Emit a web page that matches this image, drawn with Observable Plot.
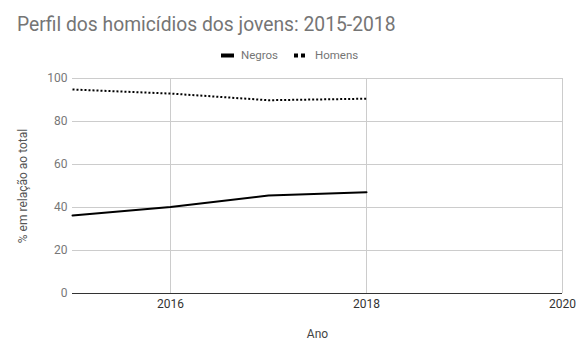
<!DOCTYPE html>
<html><head><meta charset="utf-8">
<script src="https://cdn.jsdelivr.net/npm/d3@7"></script>
<script src="https://cdn.jsdelivr.net/npm/@observablehq/plot@0.6"></script>
<style>
body{margin:0;background:#fff;font-family:Roboto,sans-serif;}
#wrap{position:relative;width:580px;height:358px;}
#title{position:absolute;left:17px;top:13px;font-size:19.3px;color:#757575;line-height:24px;}
.leg{position:absolute;top:47px;font-size:11.5px;color:#757575;line-height:16px;}
.sw{position:absolute;top:53px;}
#chart{position:absolute;left:0;top:70px;}
</style></head>
<body><div id="wrap">
<div id="title">Perfil dos homicídios dos jovens: 2015-2018</div>
<svg class="sw" style="left:221px" width="13" height="5"><line x1="0" y1="2.5" x2="13" y2="2.5" stroke="#000" stroke-width="4"/></svg>
<div class="leg" style="left:241px">Negros</div>
<svg class="sw" style="left:294px" width="14" height="5"><line x1="0" y1="2.5" x2="14" y2="2.5" stroke="#000" stroke-width="4" stroke-dasharray="4,3"/></svg>
<div class="leg" style="left:315px">Homens</div>
<div id="chart"></div>
</div>
<script>
const years = [2015, 2016, 2017, 2018];
const negros = [36.3, 40.2, 45.6, 47.1];
const homens = [94.9, 93.0, 89.9, 90.6];
const xTicks = [2016, 2018, 2020];
const yTicks = [0, 20, 40, 60, 80, 100];

const data = [
  ...years.map((y, i) => ({ano: y, v: negros[i], s: "Negros"})),
  ...years.map((y, i) => ({ano: y, v: homens[i], s: "Homens"}))
];

const chart = Plot.plot({
  width: 580, height: 288,
  marginLeft: 72, marginRight: 18, marginTop: 8, marginBottom: 65,
  style: {fontFamily: "Roboto, sans-serif", fontSize: "12px", color: "#444", background: "transparent"},
  x: {domain: [2015, 2020], ticks: xTicks, tickFormat: d => String(d), label: null},
  y: {domain: [0, 100], ticks: yTicks, label: null},
  marks: [
    Plot.gridY(yTicks, {stroke: "#ccc", strokeOpacity: 1}),
    Plot.gridX(xTicks, {stroke: "#ccc", strokeOpacity: 1}),
    Plot.axisY({ticks: yTicks, tickSize: 0, tickPadding: 5, fill: "#777", label: null}),
    Plot.axisY({ticks: [], tickSize: 0, label: "% em relação ao total", labelAnchor: "center", labelOffset: 54, labelArrow: "none", fill: "#555"}),
    Plot.axisX({ticks: xTicks, tickSize: 0, tickPadding: 6, fill: "#333", label: null, tickFormat: d => String(d)}),
    Plot.ruleY([0], {stroke: "#333", strokeWidth: 1}),
    Plot.line(data.filter(d => d.s === "Negros"), {x: "ano", y: "v", stroke: "#000", strokeWidth: 2}),
    Plot.line(data.filter(d => d.s === "Homens"), {x: "ano", y: "v", stroke: "#000", strokeWidth: 2, strokeDasharray: "2,2", strokeLinecap: "butt"}),
    Plot.text(["Ano"], {frameAnchor: "bottom", dy: 44, fill: "#444", fontSize: 12})
  ]
});
document.getElementById("chart").appendChild(chart);
</script>
</body></html>
